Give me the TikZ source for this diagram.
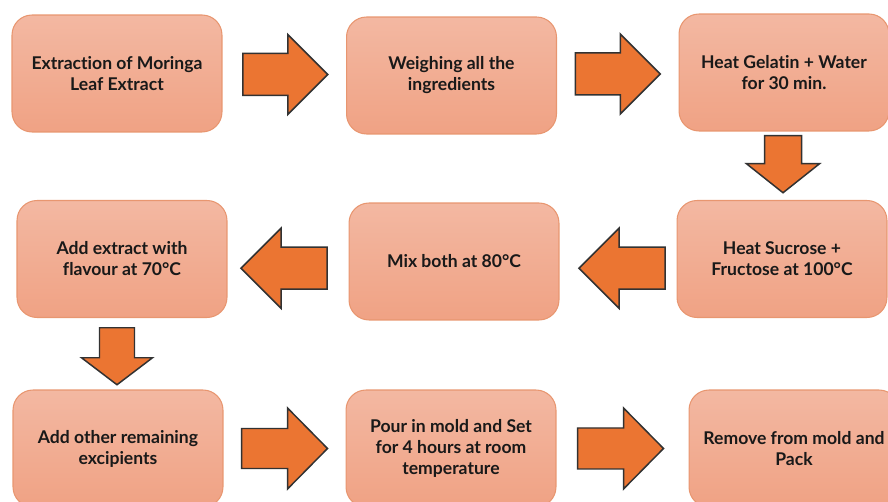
\documentclass[tikz,border=0pt]{standalone}
\usepackage{fontspec}
\setmainfont[Ligatures=NoCommon]{Lato}
\usetikzlibrary{calc}

\definecolor{boxtop}{RGB}{243,184,162}
\definecolor{boxbot}{RGB}{240,162,132}
\definecolor{boxline}{RGB}{232,150,112}
\definecolor{arrowfill}{RGB}{235,117,50}
\definecolor{arrowline}{RGB}{50,50,50}

% block arrow: centre, angle, length, shaft, head, head length
\newcommand{\fatarrow}[6]{%
  \draw[blockarrow, shift={#1}, rotate=#2]
    (-#3/2,-#4/2) -- ({#3/2-#6},-#4/2) -- ({#3/2-#6},-#5/2) -- (#3/2,0)
    -- ({#3/2-#6},#5/2) -- ({#3/2-#6},#4/2) -- (-#3/2,#4/2) -- cycle;}

\begin{document}
\begin{tikzpicture}[x=0.02cm,y=-0.02cm,
    stepbox/.style={draw=boxline, line width=0.6pt, rounded corners=0.4cm,
      top color=boxtop, bottom color=boxbot, minimum width=4.2cm,
      minimum height=2.34cm, align=center, text=black!90,
      font=\bfseries\fontsize{10pt}{11.9pt}\selectfont},
    blockarrow/.style={fill=arrowfill, draw=arrowline, line width=0.85pt, line join=miter}]
    \useasboundingbox (0,0) rectangle (888,502);
    \clip (0,0) rectangle (888,502);

    % top row
    \node[stepbox] (extract) at (117,73.5) {Extraction of Moringa\\Leaf Extract};
    \node[stepbox] (weigh) at (451.5,75.5) {Weighing all the\\ingredients};
    \node[stepbox] (gelatin) at (784,72.5) {Heat Gelatin + Water\\for 30 min.};

    % middle row, right to left
    \node[stepbox] (sucrose) at (782,259) {Heat Sucrose +\\Fructose at 100°C};
    \node[stepbox] (mix) at (454,261.5) {Mix both at 80°C};
    \node[stepbox] (flavour) at (122,259) {Add extract with\\flavour at 70°C};

    % bottom row
    \node[stepbox] (excip) at (118,448.5) {Add other remaining\\excipients};
    \node[stepbox] (mold) at (451,448.5) {Pour in mold and Set\\for 4 hours at room\\temperature};
    \node[stepbox] (pack) at (794,448.5) {Remove from mold and\\Pack};

    % block arrows between the steps
    \fatarrow{($(extract.east)!0.5!(weigh.west)+(1,0)$)}{0}{85}{42}{80}{40}
    \fatarrow{($(weigh.east)!0.5!(gelatin.west)$)}{0}{85}{42}{80}{40}
    \fatarrow{($(gelatin.south)!0.5!(sucrose.north)+(0,-1.5)$)}{-90}{57}{37}{73}{29}
    \fatarrow{($(sucrose.west)!0.5!(mix.east)+(4,8)$)}{180}{86}{42}{80}{40}
    \fatarrow{($(mix.west)!0.5!(flavour.east)+(-4,8)$)}{180}{86}{42}{80}{40}
    \fatarrow{($(flavour.south)!0.5!(excip.north)+(-3,2.5)$)}{-90}{57}{35}{71}{27}
    \fatarrow{($(excip.east)!0.5!(mold.west)$)}{0}{86}{40}{81}{40}
    \fatarrow{($(mold.east)!0.5!(pack.west)+(-2,0)$)}{0}{86}{41}{81}{40}
\end{tikzpicture}
\end{document}
